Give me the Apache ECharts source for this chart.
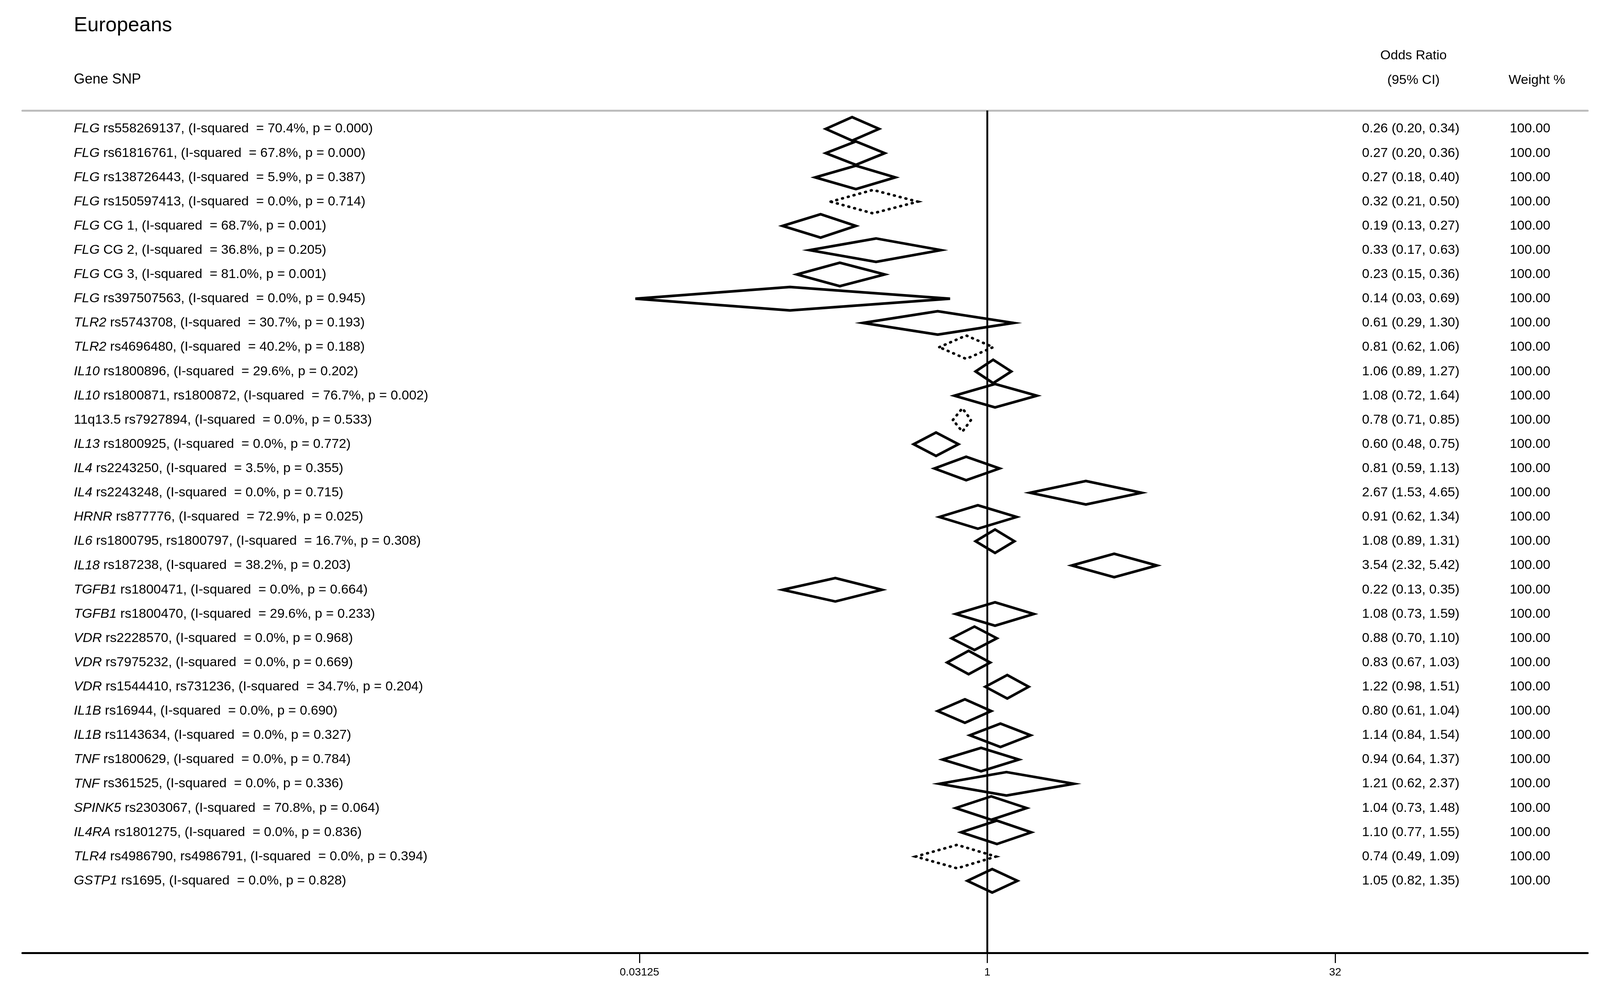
<!DOCTYPE html>
<html>
<head>
<meta charset="utf-8">
<script src="https://cdn.jsdelivr.net/npm/echarts@6/dist/echarts.min.js"></script>
<style>html,body{margin:0;padding:0;background:#fff;overflow:hidden}#main{width:100vw;height:100vh}</style>
</head>
<body>
<div id="main"></div>
<script>
var genes = ['FLG','FLG','FLG','FLG','FLG','FLG','FLG','FLG','TLR2','TLR2','IL10','IL10','','IL13','IL4','IL4','HRNR','IL6','IL18','TGFB1','TGFB1','VDR','VDR','VDR','IL1B','IL1B','TNF','TNF','SPINK5','IL4RA','TLR4','GSTP1'];
var snps = ['rs558269137','rs61816761','rs138726443','rs150597413','CG 1','CG 2','CG 3','rs397507563','rs5743708','rs4696480','rs1800896','rs1800871, rs1800872','11q13.5 rs7927894','rs1800925','rs2243250','rs2243248','rs877776','rs1800795, rs1800797','rs187238','rs1800471','rs1800470','rs2228570','rs7975232','rs1544410, rs731236','rs16944','rs1143634','rs1800629','rs361525','rs2303067','rs1801275','rs4986790, rs4986791','rs1695'];
var isq = ['70.4','67.8','5.9','0.0','68.7','36.8','81.0','0.0','30.7','40.2','29.6','76.7','0.0','0.0','3.5','0.0','72.9','16.7','38.2','0.0','29.6','0.0','0.0','34.7','0.0','0.0','0.0','0.0','70.8','0.0','0.0','0.0'];
var pvals = ['0.000','0.000','0.387','0.714','0.001','0.205','0.001','0.945','0.193','0.188','0.202','0.002','0.533','0.772','0.355','0.715','0.025','0.308','0.203','0.664','0.233','0.968','0.669','0.204','0.690','0.327','0.784','0.336','0.064','0.836','0.394','0.828'];
var orVal = [0.26,0.27,0.27,0.32,0.19,0.33,0.23,0.14,0.61,0.81,1.06,1.08,0.78,0.60,0.81,2.67,0.91,1.08,3.54,0.22,1.08,0.88,0.83,1.22,0.80,1.14,0.94,1.21,1.04,1.10,0.74,1.05];
var ciLo = [0.20,0.20,0.18,0.21,0.13,0.17,0.15,0.03,0.29,0.62,0.89,0.72,0.71,0.48,0.59,1.53,0.62,0.89,2.32,0.13,0.73,0.70,0.67,0.98,0.61,0.84,0.64,0.62,0.73,0.77,0.49,0.82];
var ciHi = [0.34,0.36,0.40,0.50,0.27,0.63,0.36,0.69,1.30,1.06,1.27,1.64,0.85,0.75,1.13,4.65,1.34,1.31,5.42,0.35,1.59,1.10,1.03,1.51,1.04,1.54,1.37,2.37,1.48,1.55,1.09,1.35];
var dotted = [0,0,0,1,0,0,0,0,0,1,0,0,1,0,0,0,0,0,0,0,0,0,0,0,0,0,0,0,0,0,1,0];
var weights = '100.00';
var tickVals = [-5, 0, 5];

var FONT = 'Liberation Sans, Arial, sans-serif';
// page may be smaller than 4290x2553, so scale every pixel size
var SX = window.innerWidth / 4290, SY = window.innerHeight / 2553;
function px(v) { return v * SX; }
function py(v) { return v * SY; }
function f(n) { return Math.round(n * Math.min(SX, SY)) + 'px ' + FONT; }

var data = orVal.map(function (v, i) {
    return [Math.log2(v), i, Math.log2(ciLo[i]), Math.log2(ciHi[i]), dotted[i]];
});

function fmt(v) { return v.toFixed(2); }

var myChart = echarts.init(document.getElementById('main'));
var option = {
    backgroundColor: '#fff',
    animation: false,
    grid: { left: px(60), right: px(33), top: py(283), bottom: py(113) },
    xAxis: [{
        type: 'value', min: -13.87, max: 8.63, position: 'bottom',
        splitLine: { show: false },
        axisLine: { onZero: false, lineStyle: { color: '#000', width: py(5) } },
        axisTick: { show: true, customValues: tickVals, length: py(26), lineStyle: { color: '#000', width: px(3) } },
        axisLabel: {
            customValues: tickVals, margin: py(36), fontSize: 28 * SY, fontFamily: FONT, color: '#000',
            formatter: function (v) { return String(Math.pow(2, v)); }
        }
    }, {
        type: 'value', min: -13.87, max: 8.63, position: 'top',
        splitLine: { show: false }, axisTick: { show: false }, axisLabel: { show: false },
        axisLine: { onZero: false, lineStyle: { color: '#bdbdbd', width: py(5) } }
    }],
    yAxis: { type: 'value', min: -0.757, max: 33.97, inverse: true, show: false },
    graphic: [
        { type: 'text', left: px(198), top: py(40), style: { text: 'Europeans', font: f(54), fill: '#000' } },
        { type: 'text', left: px(198), top: py(186), style: { text: 'Gene SNP', font: f(38), fill: '#000' } },
        { type: 'text', x: px(3790), y: py(143), style: { text: 'Odds Ratio', font: f(36), fill: '#000', textAlign: 'center', textVerticalAlign: 'middle' } },
        { type: 'text', x: px(3790), y: py(206), style: { text: '(95% CI)', font: f(36), fill: '#000', textAlign: 'center', textVerticalAlign: 'middle' } },
        { type: 'text', x: px(4045), y: py(206), style: { text: 'Weight %', font: f(36), fill: '#000', textVerticalAlign: 'middle' } }
    ],
    series: [{
        type: 'custom',
        clip: false,
        data: data,
        renderItem: function (params, api) {
            var i = api.value(1);
            var c = api.coord([api.value(0), i]);
            var l = api.coord([api.value(2), i]);
            var r = api.coord([api.value(3), i]);
            var h = py(30);
            var isDot = api.value(4) === 1;
            var g = genes[i];
            var label = (g ? '{i|' + g + '} ' : '') + snps[i] + ', (I-squared  = ' + isq[i] + '%, p = ' + pvals[i] + ')';
            return {
                type: 'group',
                children: [{
                    type: 'polygon',
                    shape: { points: [[l[0], c[1]], [c[0], c[1] - h], [r[0], c[1]], [c[0], c[1] + h]] },
                    style: { fill: 'none', stroke: '#000', lineWidth: px(7), lineDash: isDot ? [px(2), px(14)] : null, lineCap: isDot ? 'round' : 'butt' }
                }, {
                    type: 'text', x: px(198), y: c[1],
                    style: {
                        text: label, font: f(36), fill: '#000', verticalAlign: 'middle',
                        rich: { i: { fontStyle: 'italic', fontSize: Math.round(36 * Math.min(SX, SY)), fontFamily: FONT } }
                    }
                }, {
                    type: 'text', x: px(3652), y: c[1],
                    style: { text: fmt(orVal[i]) + ' (' + fmt(ciLo[i]) + ', ' + fmt(ciHi[i]) + ')', font: f(36), fill: '#000', verticalAlign: 'middle' }
                }, {
                    type: 'text', x: px(4048), y: c[1],
                    style: { text: weights, font: f(36), fill: '#000', verticalAlign: 'middle' }
                }]
            };
        },
        markLine: {
            silent: true, symbol: 'none', label: { show: false },
            lineStyle: { color: '#000', width: px(5), type: 'solid' },
            data: [{ xAxis: 0 }]
        }
    }]
};
myChart.setOption(option);
</script>
</body>
</html>
